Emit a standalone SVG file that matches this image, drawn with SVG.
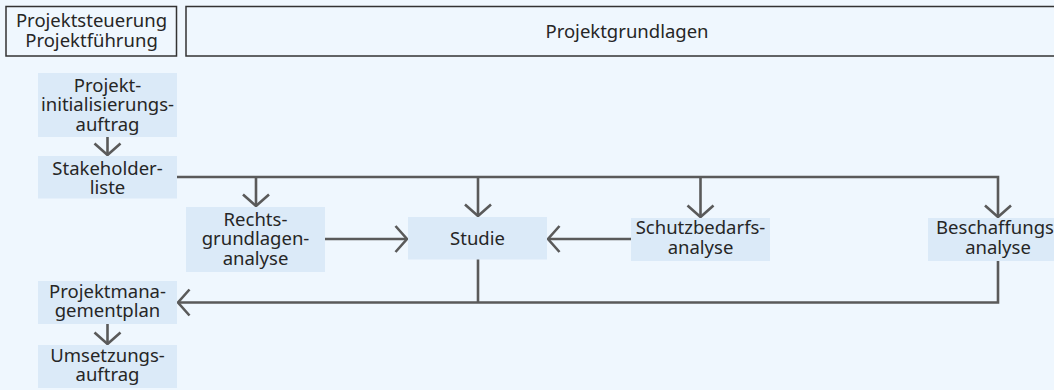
<svg xmlns="http://www.w3.org/2000/svg" width="1054" height="390" viewBox="0 0 1054 390">
<defs>
<style>
.bg{fill:#eff7fe}
.hdr{fill:#eff7fe;stroke:#333333;stroke-width:1.5}
.node{fill:#dbeaf8}
text{font-family:"Noto Sans","Open Sans",sans-serif;font-size:18.5px;fill:#262626;text-anchor:middle}
.conn{fill:none;stroke:#5a5a5a;stroke-width:2.6}
</style>
<marker id="arr" viewBox="-14 -16 16 32" refX="0" refY="0" markerWidth="16" markerHeight="32" markerUnits="userSpaceOnUse" orient="auto">
<path d="M-11.5,-13 L0,0 L-11.5,13" fill="none" stroke="#5a5a5a" stroke-width="2.6"/>
</marker>
</defs>
<rect class="bg" x="0" y="0" width="1054" height="390"/>
<g id="header-steuerung">
<rect class="hdr" x="6" y="6.5" width="170.5" height="49.5"/>
<text x="91.5" y="27">Projektsteuerung</text>
<text x="91.5" y="47">Projektführung</text>
</g>
<g id="header-grundlagen">
<rect class="hdr" x="186" y="6.5" width="880" height="49.5"/>
<text x="627" y="38">Projektgrundlagen</text>
</g>
<g id="connectors">
<path class="conn" d="M107.5,137 V155" marker-end="url(#arr)"/>
<path class="conn" d="M177,177 H998 V217" marker-end="url(#arr)"/>
<path class="conn" d="M256,177 V206" marker-end="url(#arr)"/>
<path class="conn" d="M478,177 V216" marker-end="url(#arr)"/>
<path class="conn" d="M700.5,177 V217" marker-end="url(#arr)"/>
<path class="conn" d="M325,239 H407" marker-end="url(#arr)"/>
<path class="conn" d="M631,239 H548" marker-end="url(#arr)"/>
<path class="conn" d="M478,259 V302.5"/>
<path class="conn" d="M998,261 V302.5 H178" marker-end="url(#arr)"/>
<path class="conn" d="M107.5,324 V344" marker-end="url(#arr)"/>
</g>
<g id="n-projektinit">
<rect class="node" x="38" y="73" width="139" height="64"/>
<text x="107.5" y="91.5">Projekt-</text>
<text x="107.5" y="111">initialisierungs-</text>
<text x="107.5" y="130.5">auftrag</text>
</g>
<g id="n-stakeholder">
<rect class="node" x="38" y="156" width="139" height="42.5"/>
<text x="107.5" y="174.5">Stakeholder-</text>
<text x="107.5" y="193.5">liste</text>
</g>
<g id="n-rechts">
<rect class="node" x="186" y="207" width="139" height="65"/>
<text x="255.5" y="225.5">Rechts-</text>
<text x="255.5" y="245">grundlagen-</text>
<text x="255.5" y="264.5">analyse</text>
</g>
<g id="n-studie">
<rect class="node" x="408" y="217" width="139" height="42.5"/>
<text x="477.5" y="244.5">Studie</text>
</g>
<g id="n-schutz">
<rect class="node" x="631" y="218" width="139" height="43"/>
<text x="700.5" y="234">Schutzbedarfs-</text>
<text x="700.5" y="253.5">analyse</text>
</g>
<g id="n-beschaffung">
<rect class="node" x="928" y="218" width="140" height="43"/>
<text x="998" y="234">Beschaffungs-</text>
<text x="998" y="253.5">analyse</text>
</g>
<g id="n-pmplan">
<rect class="node" x="38" y="281" width="139" height="43"/>
<text x="107.5" y="297.5">Projektmana-</text>
<text x="107.5" y="317">gementplan</text>
</g>
<g id="n-umsetzung">
<rect class="node" x="38" y="345" width="139" height="43"/>
<text x="107.5" y="361.5">Umsetzungs-</text>
<text x="107.5" y="381">auftrag</text>
</g>
</svg>
